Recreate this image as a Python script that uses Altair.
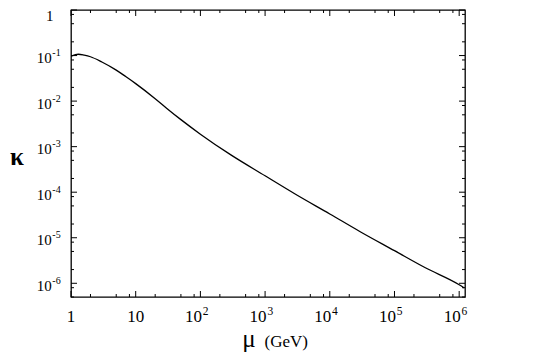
import altair as alt
import pandas as pd

# curve values
mu = [1, 1.3, 1.6, 2, 3, 5, 7, 10, 20, 30, 50, 100, 300, 1000, 3000,
      1e4, 3e4, 1e5, 3e5, 1e6, 1.2e6]
kappa = [0.0966, 0.1067, 0.102, 0.0941, 0.0722, 0.0479, 0.0346, 0.0242,
         0.0113, 7.0e-3, 3.92e-3, 1.88e-3, 6.5e-4, 2.29e-4, 8.9e-5,
         3.33e-5, 1.34e-5, 5.2e-6, 2.19e-6, 9.3e-7, 7.9e-7]

# axes
x_domain = [1, 1.23e6]
y_domain = [5.0e-7, 1]
x_major = [1, 10, 100, 1e3, 1e4, 1e5, 1e6]
y_major = [1, 1e-1, 1e-2, 1e-3, 1e-4, 1e-5, 1e-6]
minor_mult = [2, 5, 8]
x_minor = [m * d for d in x_major for m in minor_mult if m * d <= x_domain[1]]
y_minor = [m * d / 10 for d in y_major for m in minor_mult
           if y_domain[0] <= m * d / 10 < 1]

x_plain_vals = [1, 10]
x_plain_text = ["1", "10"]
x_pow_vals = [100, 1e3, 1e4, 1e5, 1e6]
x_pow_exp = ["2", "3", "4", "5", "6"]
y_pow_vals = [1e-1, 1e-2, 1e-3, 1e-4, 1e-5, 1e-6]
y_pow_exp = ["-1", "-2", "-3", "-4", "-5", "-6"]

W, H = 394, 287
FONT = "Liberation Serif"

xs = alt.Scale(type="log", domain=x_domain, nice=False)
ys = alt.Scale(type="log", domain=y_domain, nice=False)

curve = pd.DataFrame({"mu": mu, "kappa": kappa})

line = alt.Chart(curve).mark_line(
    interpolate="monotone", color="black", strokeWidth=1.3, clip=True
).encode(
    x=alt.X("mu:Q", scale=xs, axis=None),
    y=alt.Y("kappa:Q", scale=ys, axis=None),
)

def xticks(vals, length):
    df = pd.DataFrame({"v": vals})
    bot = alt.Chart(df).mark_rule(color="black", strokeWidth=1).encode(
        x=alt.X("v:Q", scale=xs, axis=None),
        y=alt.value(H), y2=alt.value(H - length))
    top = alt.Chart(df).mark_rule(color="black", strokeWidth=1).encode(
        x=alt.X("v:Q", scale=xs, axis=None),
        y=alt.value(0), y2=alt.value(length))
    return [bot, top]

def yticks(vals, length):
    df = pd.DataFrame({"v": vals})
    left = alt.Chart(df).mark_rule(color="black", strokeWidth=1).encode(
        y=alt.Y("v:Q", scale=ys, axis=None),
        x=alt.value(0), x2=alt.value(length))
    right = alt.Chart(df).mark_rule(color="black", strokeWidth=1).encode(
        y=alt.Y("v:Q", scale=ys, axis=None),
        x=alt.value(W), x2=alt.value(W - length))
    return [left, right]

ticks = (xticks(x_major, 6) + xticks(x_minor, 3)
         + yticks(y_major, 6) + yticks(y_minor, 3))

XL_Y = H + 25

xl_plain = alt.Chart(pd.DataFrame({"v": x_plain_vals, "t": x_plain_text})).mark_text(
    font=FONT, fontSize=17, align="center", baseline="alphabetic", color="black"
).encode(x=alt.X("v:Q", scale=xs, axis=None), y=alt.value(XL_Y), text="t:N")

xl_base = alt.Chart(pd.DataFrame({"v": x_pow_vals})).mark_text(
    font=FONT, fontSize=17, align="right", baseline="alphabetic", color="black", dx=1.5
).encode(x=alt.X("v:Q", scale=xs, axis=None), y=alt.value(XL_Y), text=alt.value("10"))

xl_exp = alt.Chart(pd.DataFrame({"v": x_pow_vals, "e": x_pow_exp})).mark_text(
    font=FONT, fontSize=11.5, align="left", baseline="alphabetic", color="black", dx=2.3
).encode(x=alt.X("v:Q", scale=xs, axis=None), y=alt.value(XL_Y - 7), text="e:N")

yl_one = alt.Chart(pd.DataFrame({"v": [1]})).mark_text(
    font=FONT, fontSize=15, align="right", baseline="alphabetic", color="black", dy=11
).encode(y=alt.Y("v:Q", scale=ys, axis=None), x=alt.value(-17.5), text=alt.value("1"))

yl_base = alt.Chart(pd.DataFrame({"v": y_pow_vals})).mark_text(
    font=FONT, fontSize=15, align="right", baseline="alphabetic", color="black", dy=7.7
).encode(y=alt.Y("v:Q", scale=ys, axis=None), x=alt.value(-19.3), text=alt.value("10"))

yl_exp = alt.Chart(pd.DataFrame({"v": y_pow_vals, "e": y_pow_exp})).mark_text(
    font=FONT, fontSize=10, align="left", baseline="alphabetic", color="black", dy=0.5
).encode(y=alt.Y("v:Q", scale=ys, axis=None), x=alt.value(-18.7), text="e:N")

one = pd.DataFrame({"k": [0]})
title_mu = alt.Chart(one).mark_text(
    font=FONT, fontSize=25, align="center", baseline="alphabetic", color="black"
).encode(x=alt.value(178), y=alt.value(336.7), text=alt.value("μ"))
title_gev = alt.Chart(one).mark_text(
    font=FONT, fontSize=17, align="left", baseline="alphabetic", color="black"
).encode(x=alt.value(193.5), y=alt.value(336.7), text=alt.value("(GeV)"))
title_kappa = alt.Chart(one).mark_text(
    font=FONT, fontSize=25, fontWeight="bold", align="center", baseline="alphabetic",
    color="black"
).encode(x=alt.value(-54), y=alt.value(155), text=alt.value("κ"))

chart = alt.layer(
    line, *ticks, xl_plain, xl_base, xl_exp, yl_one, yl_base, yl_exp,
    title_mu, title_gev, title_kappa
).properties(
    width=W, height=H,
    autosize=alt.AutoSizeParams(type="none"),
    padding={"left": 63, "top": 2, "right": 71, "bottom": 62},
).configure_view(stroke="black", strokeWidth=1.3)

chart.save("out.html", embed_options={"renderer": "svg", "actions": False})
